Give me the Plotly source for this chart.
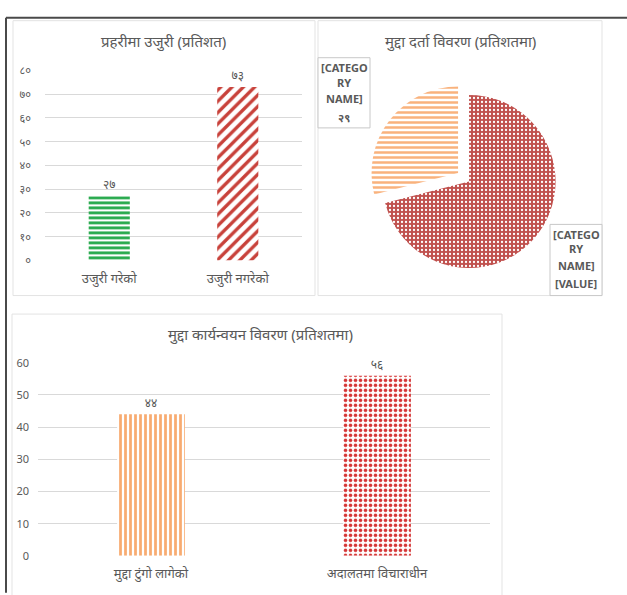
import plotly.graph_objects as go

W, H = 627, 595

# ---------------- data ----------------
police_categories = ["उजुरी गरेको", "उजुरी नगरेको"]
police_values = [27, 73]
police_ticks = [0, 10, 20, 30, 40, 50, 60, 70, 80]

case_reg_labels = ["[CATEGORY NAME] A", "[CATEGORY NAME] B"]
case_reg_values = [71, 29]
case_reg_label_lines = [["[CATEGO", "RY", "NAME]", "[VALUE]"], ["[CATEGO", "RY", "NAME]", "२९"]]

exec_categories = ["मुद्दा टुंगो लागेको", "अदालतमा विचाराधीन"]
exec_values = [44, 56]
exec_ticks = [0, 10, 20, 30, 40, 50, 60]

titles = ["प्रहरीमा उजुरी (प्रतिशत)", "मुद्दा दर्ता विवरण (प्रतिशतमा)", "मुद्दा कार्यन्वयन विवरण (प्रतिशतमा)"]

DEV = str.maketrans("0123456789", "०१२३४५६७८९")
def dev(n):
    return str(n).translate(DEV)

def px(x):
    return x / W

def py(y):
    return 1 - y / H

GRAY_TXT = "#595959"
GRID = "#d9d9d9"
FONT = "Noto Sans, DejaVu Sans, sans-serif"

fig = go.Figure()

# Panel 1 bars (one trace per bar so each gets its own pattern)
p1_styles = [dict(shape="-", fg="#1fa646", size=5, sol=0.55),
             dict(shape="/", fg="#c8413a", size=8, sol=0.42)]
for cat, val, st in zip(police_categories, police_values, p1_styles):
    fig.add_trace(go.Bar(
        x=[cat], y=[val], width=0.32,
        text=[dev(val)], textposition="outside",
        textfont=dict(size=12, color=GRAY_TXT), cliponaxis=False,
        marker=dict(color="white", line=dict(width=0),
                    pattern=dict(shape=st["shape"], fgcolor=st["fg"], bgcolor="white",
                                 fgopacity=1, size=st["size"], solidity=st["sol"],
                                 fillmode="overlay")),
        xaxis="x", yaxis="y", showlegend=False,
    ))

# Panel 2 pie
fig.add_trace(go.Pie(
    labels=case_reg_labels, values=case_reg_values,
    sort=False, direction="clockwise", rotation=0,
    pull=[0, 0.16], textinfo="none", showlegend=False,
    marker=dict(
        colors=["#c0504d", "white"],
        line=dict(width=0),
        pattern=dict(shape=[".", "-"], fgcolor=["white", "#f9b27c"],
                     bgcolor=["#c0504d", "white"], size=[4, 5], solidity=[0.25, 0.5],
                     fillmode="replace"),
    ),
    domain=dict(x=[px(366), px(572)], y=[py(281), py(75)]),
))

# Panel 3 bars
p3_styles = [dict(shape="|", fg="#f8ab70", size=5, sol=0.55),
             dict(shape=".", fg="#d43434", size=5, sol=0.42)]
for cat, val, st in zip(exec_categories, exec_values, p3_styles):
    fig.add_trace(go.Bar(
        x=[cat], y=[val], width=0.30,
        text=[dev(val)], textposition="outside",
        textfont=dict(size=12, color=GRAY_TXT), cliponaxis=False,
        marker=dict(color="white", line=dict(width=0),
                    pattern=dict(shape=st["shape"], fgcolor=st["fg"], bgcolor="white",
                                 fgopacity=1, size=st["size"], solidity=st["sol"],
                                 fillmode="overlay")),
        xaxis="x2", yaxis="y2", showlegend=False,
    ))

axis_common = dict(showline=False, gridcolor=GRID, gridwidth=1, zeroline=False,
                   ticks="")

fig.update_layout(
    width=W, height=H,
    margin=dict(l=0, r=0, t=0, b=0),
    paper_bgcolor="white", plot_bgcolor="white",
    font=dict(family=FONT, color=GRAY_TXT),
    barmode="overlay",
    xaxis=dict(domain=[px(45), px(302)], anchor="y", showgrid=False,
               categoryorder="array", categoryarray=police_categories,
               tickfont=dict(size=13, color=GRAY_TXT), ticks="", showline=False,
               ticklabelstandoff=9),
    yaxis=dict(domain=[py(259), py(64)], anchor="x", range=[0, 80],
               tickvals=police_ticks, ticktext=[dev(t) for t in police_ticks],
               tickfont=dict(size=11, color=GRAY_TXT), ticklabelstandoff=13,
               **axis_common),
    xaxis2=dict(domain=[px(38), px(490)], anchor="y2", showgrid=False,
                categoryorder="array", categoryarray=exec_categories,
                tickfont=dict(size=13, color=GRAY_TXT), ticks="", showline=False,
                ticklabelstandoff=8),
    yaxis2=dict(domain=[py(562), py(364)], anchor="x2", range=[0, 60],
                tickvals=exec_ticks, tickfont=dict(size=11, color=GRAY_TXT),
                ticklabelstandoff=8, **axis_common),
)

shapes = []
# panel borders
for x0, y0, x1, y1 in [(13, 13, 315, 295), (318, 13, 602, 295), (12, 314, 502, 605)]:
    shapes.append(dict(type="rect", xref="paper", yref="paper",
                       x0=px(x0), x1=px(x1), y0=py(y0), y1=py(y1),
                       line=dict(color="#e3e3e3", width=1), layer="below"))
# outer dark frame
shapes.append(dict(type="line", xref="paper", yref="paper", x0=px(6), x1=px(627),
                   y0=py(10), y1=py(10), line=dict(color="#4a4a4a", width=2)))
shapes.append(dict(type="line", xref="paper", yref="paper", x0=px(6), x1=px(6),
                   y0=py(10), y1=py(600), line=dict(color="#4a4a4a", width=2)))
# pie data-label boxes
label_boxes = [(550, 222, 602, 295), (318, 51, 370, 123)]
for x0, y0, x1, y1 in label_boxes:
    shapes.append(dict(type="rect", xref="paper", yref="paper",
                       x0=px(x0), x1=px(x1), y0=py(y0), y1=py(y1),
                       line=dict(color="#c8c8c8", width=1), fillcolor="white", layer="above"))
fig.update_layout(shapes=shapes)

ann = []
for t, x, y in zip(titles, [163, 460, 260], [34, 34, 335]):
    ann.append(dict(text=t, xref="paper", yref="paper", x=px(x), y=py(y),
                    xanchor="center", yanchor="middle", showarrow=False,
                    font=dict(size=15, color=GRAY_TXT)))
line_offsets = [10, 25, 42, 61]
for lines, (x0, y0, x1, y1) in zip(case_reg_label_lines, label_boxes):
    for ln, off in zip(lines, line_offsets):
        ann.append(dict(text="<b>" + ln + "</b>", xref="paper", yref="paper",
                        x=px((x0 + x1) / 2), y=py(y0 + off),
                        xanchor="center", yanchor="middle", showarrow=False,
                        font=dict(size=11, color=GRAY_TXT)))
fig.update_layout(annotations=ann)

fig.write_html("out.html", config={"displayModeBar": False},
               post_script="document.body.style.margin='0px';")
